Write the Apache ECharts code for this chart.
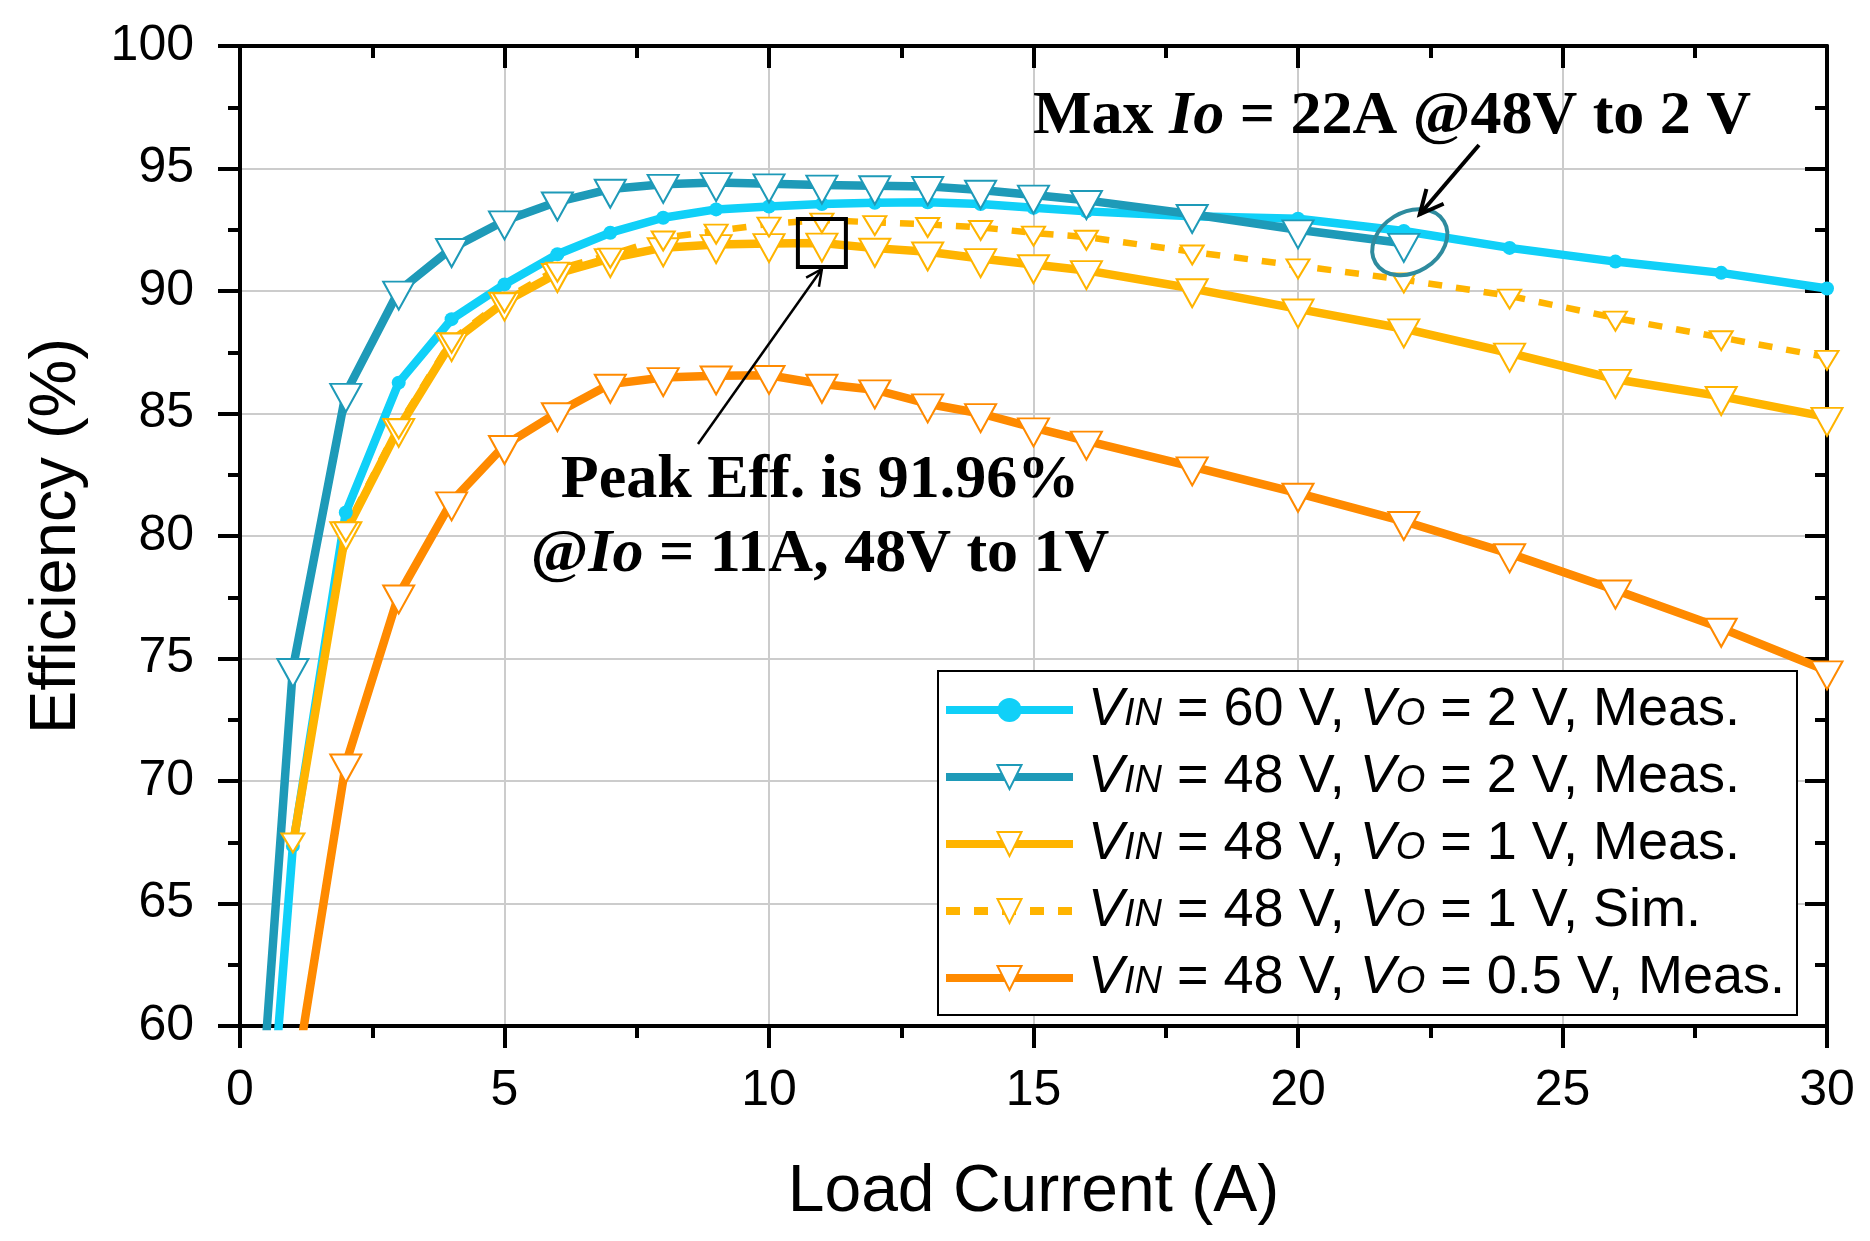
<!DOCTYPE html>
<html>
<head>
<meta charset="utf-8">
<title>Efficiency vs Load Current</title>
<script src="https://cdn.jsdelivr.net/npm/echarts@6/dist/echarts.min.js"></script>
<style>
html, body { margin: 0; padding: 0; background: #fff; }
#main { width: 1870px; height: 1241px; }
</style>
</head>
<body>
<div id="main"></div>
<script>
// load current points (A)
var x_60v_2v = [0.5, 1, 2, 3, 4, 5, 6, 7, 8, 9, 10, 11, 12, 13, 14, 15, 16, 18, 20, 22, 24, 26, 28, 30];
var x_48v_2v = [0.5, 1, 2, 3, 4, 5, 6, 7, 8, 9, 10, 11, 12, 13, 14, 15, 16, 18, 20, 22];
var x_48v = [1, 2, 3, 4, 5, 6, 7, 8, 9, 10, 11, 12, 13, 14, 15, 16, 18, 20, 22, 24, 26, 28, 30];

// efficiency (%)
var eff_60v_2v = [53.7, 67.35, 80.96, 86.26, 88.85, 90.27, 91.5, 92.38, 92.99, 93.33, 93.45, 93.55, 93.6, 93.62, 93.55, 93.4, 93.25, 93.05, 92.95, 92.45, 91.76, 91.2, 90.74, 90.1];
var eff_48v_2v = [59.7, 74.6, 85.83, 90.0, 91.74, 92.87, 93.64, 94.16, 94.36, 94.43, 94.38, 94.33, 94.3, 94.27, 94.12, 93.92, 93.7, 93.13, 92.5, 91.95];
var eff_48v_1v = [67.4, 80.18, 84.4, 87.9, 89.55, 90.72, 91.33, 91.77, 91.9, 91.94, 91.96, 91.75, 91.6, 91.33, 91.08, 90.84, 90.1, 89.27, 88.46, 87.47, 86.4, 85.7, 84.85];
var eff_48v_1v_sim = [67.6, 80.3, 84.5, 88.0, 89.65, 90.9, 91.47, 92.17, 92.45, 92.74, 92.9, 92.8, 92.72, 92.6, 92.37, 92.2, 91.6, 91.03, 90.46, 89.8, 88.9, 88.1, 87.3];
var eff_48v_05v = [57.2, 70.7, 77.6, 81.4, 83.7, 85.04, 86.2, 86.47, 86.54, 86.56, 86.2, 85.97, 85.4, 85.0, 84.42, 83.88, 82.83, 81.75, 80.6, 79.28, 77.8, 76.24, 74.5];

var names = [
    'VIN = 60 V, VO = 2 V, Meas.',
    'VIN = 48 V, VO = 2 V, Meas.',
    'VIN = 48 V, VO = 1 V, Meas.',
    'VIN = 48 V, VO = 1 V, Sim.',
    'VIN = 48 V, VO = 0.5 V, Meas.'
];

var c_cyan = '#10d0f8', c_teal = '#1e9ab8', c_yellow = '#ffb400', c_orange = '#ff8a00';
var sans = '"Liberation Sans", Arial, sans-serif';
var serif = '"Liberation Serif", "Times New Roman", serif';

function pairs(xs, ys) {
    var out = [];
    for (var i = 0; i < xs.length; i++) {
        out.push([xs[i], ys[i]]);
    }
    return out;
}

function triSeries(name, xs, ys, color, dashed, size, hideFirst) {
    var data = pairs(xs, ys);
    if (hideFirst) {
        // the first point's marker is hidden under the others in the original
        data[0] = { value: data[0], symbol: 'none' };
    }
    return {
        name: name,
        type: 'line',
        data: data,
        symbol: 'triangle',
        symbolRotate: 180,
        symbolSize: size,
        symbolOffset: [0, size[1] / 6],
        showAllSymbol: true,
        clip: true,
        lineStyle: { color: color, width: dashed ? 6.5 : 8.5, type: dashed ? [14, 14] : 'solid' },
        itemStyle: { color: '#fff', borderColor: color, borderWidth: 2 },
        emphasis: { disabled: true }
    };
}

var myChart = echarts.init(document.getElementById('main'));

var axisCommon = {
    type: 'value',
    axisLine: { show: true, onZero: false, lineStyle: { color: '#000', width: 4 } },
    axisTick: { show: true, length: 22, lineStyle: { color: '#000', width: 4 } },
    minorTick: { show: true, splitNumber: 2, length: 12, lineStyle: { color: '#000', width: 4 } }
};

option = {
    backgroundColor: '#fff',
    animation: false,
    grid: { left: 240, right: 43, top: 46, bottom: 215 },
    legend: {
        data: names,
        orient: 'vertical',
        left: 938,
        top: 671,
        padding: [12, 12, 10, 4],
        itemGap: 13,
        itemWidth: 127,
        itemHeight: 30,
        backgroundColor: '#fff',
        borderColor: '#000',
        borderWidth: 2,
        borderRadius: 0,
        selectedMode: false,
        lineStyle: { width: 8 },
        formatter: function (name) {
            return name.replace('VIN', '{v|V}{s|IN}').replace('VO', '{v|V}{s|O}');
        },
        textStyle: {
            fontFamily: sans,
            fontSize: 54,
            lineHeight: 54,
            color: '#000',
            padding: [0, 0, 0, 10],
            rich: {
                v: { fontFamily: sans, fontSize: 54, fontStyle: 'italic', color: '#000' },
                s: { fontFamily: sans, fontSize: 38, fontStyle: 'italic', color: '#000', padding: [8, 0, 0, 0] }
            }
        }
    },
    xAxis: [
        Object.assign({}, axisCommon, {
            min: 0, max: 30, interval: 5,
            position: 'bottom',
            name: 'Load Current (A)',
            nameLocation: 'middle',
            nameGap: 134,
            nameTextStyle: { fontFamily: sans, fontSize: 66, color: '#000' },
            axisLabel: { margin: 40, fontFamily: sans, fontSize: 50, color: '#000' },
            splitLine: { show: true, lineStyle: { color: '#cccccc', width: 2 } }
        }),
        Object.assign({}, axisCommon, {
            min: 0, max: 30, interval: 5,
            position: 'top',
            axisTick: { show: true, inside: true, length: 22, lineStyle: { color: '#000', width: 4 } },
            axisLabel: { show: false },
            splitLine: { show: false }
        })
    ],
    yAxis: [
        Object.assign({}, axisCommon, {
            min: 60, max: 100, interval: 5,
            position: 'left',
            name: 'Efficiency (%)',
            nameLocation: 'middle',
            nameGap: 150,
            nameTextStyle: { fontFamily: sans, fontSize: 65, color: '#000' },
            axisLabel: { margin: 46, fontFamily: sans, fontSize: 50, color: '#000' },
            splitLine: { show: true, lineStyle: { color: '#cccccc', width: 2 } }
        }),
        Object.assign({}, axisCommon, {
            min: 60, max: 100, interval: 5,
            position: 'right',
            axisTick: { show: true, inside: true, length: 22, lineStyle: { color: '#000', width: 4 } },
            axisLabel: { show: false },
            splitLine: { show: false }
        })
    ],
    series: [
        {
            name: names[0],
            type: 'line',
            data: pairs(x_60v_2v, eff_60v_2v),
            symbol: 'circle',
            symbolSize: 14,
            showAllSymbol: true,
            clip: true,
            lineStyle: { color: c_cyan, width: 8.5 },
            itemStyle: { color: c_cyan, borderWidth: 0 },
            emphasis: { disabled: true }
        },
        triSeries(names[1], x_48v_2v, eff_48v_2v, c_teal, false, [31, 28]),
        triSeries(names[2], x_48v, eff_48v_1v, c_yellow, false, [31, 28], true),
        triSeries(names[3], x_48v, eff_48v_1v_sim, c_yellow, true, [23, 19]),
        triSeries(names[4], x_48v, eff_48v_05v, c_orange, false, [31, 28])
    ]
};

myChart.setOption(option);

// open V arrow head at (tx,ty), coming from (fx,fy)
function arrowHead(fx, fy, tx, ty, len, width) {
    var a = Math.atan2(ty - fy, tx - fx);
    var s = 0.45;
    return {
        type: 'polyline',
        shape: { points: [
            [tx - len * Math.cos(a - s), ty - len * Math.sin(a - s)],
            [tx, ty],
            [tx - len * Math.cos(a + s), ty - len * Math.sin(a + s)]
        ] },
        style: { stroke: '#000', lineWidth: width, fill: null },
        z: 100
    };
}

function annotate() {
    var iPeak = x_48v.indexOf(11);
    var peak = myChart.convertToPixel({ xAxisIndex: 0, yAxisIndex: 0 }, [11, eff_48v_1v[iPeak]]);
    var iMax = x_48v_2v.indexOf(22);
    var maxp = myChart.convertToPixel({ xAxisIndex: 0, yAxisIndex: 0 }, [22, eff_48v_2v[iMax]]);

    var peakTail = [698, 444], peakTip = [peak[0], peak[1] + 26];
    var ellC = [maxp[0] + 6, maxp[1] - 1];
    var maxTail = [1479, 145], maxTip = [ellC[0] + 10, ellC[1] - 28];

    var boldRich = {
        b: { fontFamily: serif, fontWeight: 'bold', fontSize: 62, fill: '#000' },
        bi: { fontFamily: serif, fontWeight: 'bold', fontStyle: 'italic', fontSize: 62, fill: '#000' }
    };

    myChart.setOption({
        graphic: [
            {
                type: 'rect',
                shape: { x: peak[0] - 24, y: peak[1] - 24, width: 48, height: 48 },
                style: { fill: null, stroke: '#000', lineWidth: 4 },
                z: 100
            },
            {
                type: 'line',
                shape: { x1: peakTail[0], y1: peakTail[1], x2: peakTip[0], y2: peakTip[1] },
                style: { stroke: '#000', lineWidth: 2.5 },
                z: 100
            },
            arrowHead(peakTail[0], peakTail[1], peakTip[0], peakTip[1], 18, 2.5),
            {
                type: 'ellipse',
                x: ellC[0], y: ellC[1],
                rotation: 0.55,
                shape: { cx: 0, cy: 0, rx: 40, ry: 30 },
                style: { fill: null, stroke: '#2e8b9e', lineWidth: 4 },
                z: 100
            },
            {
                type: 'line',
                shape: { x1: maxTail[0], y1: maxTail[1], x2: maxTip[0], y2: maxTip[1] },
                style: { stroke: '#000', lineWidth: 4 },
                z: 100
            },
            arrowHead(maxTail[0], maxTail[1], maxTip[0], maxTip[1], 26, 4),
            {
                type: 'text',
                x: 1033, y: 117,
                style: {
                    text: '{b|Max }{bi|Io}{b| = 22A @48V to 2 V}',
                    rich: boldRich,
                    textAlign: 'left', textVerticalAlign: 'middle'
                },
                z: 100
            },
            {
                type: 'text',
                x: 820, y: 481,
                style: {
                    text: '{b|Peak Eff. is 91.96%}',
                    rich: boldRich,
                    textAlign: 'center', textVerticalAlign: 'middle'
                },
                z: 100
            },
            {
                type: 'text',
                x: 820, y: 555,
                style: {
                    text: '{b|@}{bi|Io}{b| = 11A, 48V to 1V}',
                    rich: boldRich,
                    textAlign: 'center', textVerticalAlign: 'middle'
                },
                z: 100
            }
        ]
    });
}

annotate();
</script>
</body>
</html>
